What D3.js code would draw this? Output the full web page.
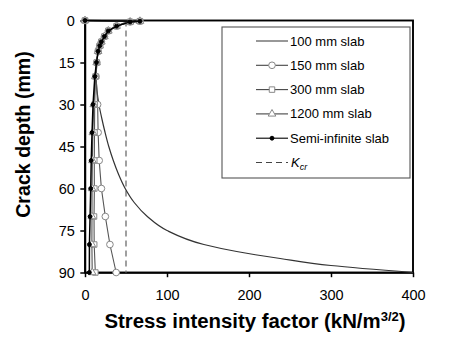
<!DOCTYPE html>
<html>
<head>
<meta charset="utf-8">
<script src="https://cdn.jsdelivr.net/npm/d3@7"></script>
<style>
  body { margin: 0; background: #fff; }
  svg { font-family: "Liberation Sans", Arial, sans-serif; display: block; }
  .axis path, .axis line { stroke: #000; stroke-width: 1.5; }
  .axis text { font-size: 14.5px; fill: #000; }
</style>
</head>
<body>
<div id="root"></div>
<script>
// data (crack depth in mm, K in kN/m^3/2)
const depths = [0, 0.25, 0.5, 2, 3.7, 5.7, 7.6, 9, 11, 15, 20, 30, 40, 50, 60, 70, 80, 90];
const k150 = [0, 67, 55, 38.6, 28.5, 23.7, 20, 18, 16, 14.5, 13.5, 15.4, 16, 17.3, 20, 24.8, 30.4, 38];
const k300 = [0, 67, 55, 38.6, 28.5, 23.7, 20, 18, 16, 14.3, 12.8, 11.8, 11.6, 11.3, 11.4, 11, 11.2, 12.6];
const k1200 = [0, 67, 55, 38.6, 28.5, 23.7, 20, 18, 16, 14.2, 12.5, 10.6, 9.6, 9, 8.6, 8.5, 8.4, 8.8];
const kSemi = [0, 67, 55, 38.6, 28.5, 23.7, 20, 18, 16, 14, 12, 9.8, 8.6, 7.6, 7, 6.2, 5.4, 5.3];

const depths100 = [0, 0.25, 0.5, 2, 3.7, 5.7, 7.6, 9, 11, 15, 20, 25, 30, 35, 40, 45, 50, 55, 60, 65, 70, 75, 80, 82.5, 85, 87.5, 90];
const k100 = [0, 67, 55, 38.6, 28.5, 23.7, 20, 18, 16, 14.5, 13.6, 14.6, 17, 20.5, 24.5, 29, 34.5, 41, 49, 60, 76, 100, 145, 185, 238, 300, 400];

const kcr = 50;
const xTicks = [0, 100, 200, 300, 400];
const yTicks = [0, 15, 30, 45, 60, 75, 90];
const legendNames = ["100 mm slab", "150 mm slab", "300 mm slab", "1200 mm slab", "Semi-infinite slab"];

const width = 460, height = 352;
const mLeft = 85, mTop = 20.5, plotW = 328, plotH = 252;

const svg = d3.select("#root").append("svg")
  .attr("width", width)
  .attr("height", height);

const x = d3.scaleLinear().domain([0, 400]).range([mLeft, mLeft + plotW]);
const y = d3.scaleLinear().domain([0, 90]).range([mTop, mTop + plotH]);

// axes
svg.append("g")
  .attr("class", "axis")
  .attr("transform", `translate(${mLeft},0)`)
  .call(d3.axisLeft(y).tickValues(yTicks).tickSize(4.7).tickSizeOuter(0).tickPadding(5.5));

svg.append("g")
  .attr("class", "axis")
  .attr("transform", `translate(0,${mTop + plotH})`)
  .call(d3.axisBottom(x).tickValues(xTicks).tickSize(4.7).tickSizeOuter(0).tickPadding(13));

// frame
svg.append("rect")
  .attr("x", mLeft).attr("y", mTop)
  .attr("width", plotW).attr("height", plotH)
  .attr("fill", "none").attr("stroke", "#000").attr("stroke-width", 1.9);

// K_cr
svg.append("line")
  .attr("x1", x(kcr)).attr("x2", x(kcr))
  .attr("y1", y(0)).attr("y2", y(90))
  .attr("stroke", "#777").attr("stroke-width", 1.4)
  .attr("stroke-dasharray", "6,4");

const lineFor = (ks, ds) => d3.line()
  .x((d, i) => x(ks[i]))
  .y(d => y(d))(ds);

// 100 mm slab (smooth line, no markers)
svg.append("path")
  .attr("d", d3.line().curve(d3.curveMonotoneY)
    .x((d, i) => x(k100[i])).y(d => y(d))(depths100))
  .attr("fill", "none").attr("stroke", "#333").attr("stroke-width", 1.2);

const series = [
  {name: "150 mm slab", k: k150, sym: d3.symbolCircle, size: 35, line: "#555"},
  {name: "300 mm slab", k: k300, sym: d3.symbolSquare, size: 30, line: "#555"},
  {name: "1200 mm slab", k: k1200, sym: d3.symbolTriangle, size: 25, line: "#555"},
  {name: "Semi-infinite slab", k: kSemi, sym: d3.symbolCircle, size: 12, line: "#000"}
];

series.forEach(s => {
  const g = svg.append("g");
  g.append("path")
    .attr("d", lineFor(s.k, depths))
    .attr("fill", "none").attr("stroke", s.line)
    .attr("stroke-width", s.line === "#000" ? 1.5 : 1.1);
  g.selectAll("path.m")
    .data(depths)
    .join("path")
    .attr("class", "m")
    .attr("transform", (d, i) => `translate(${x(s.k[i])},${y(d)})`)
    .attr("d", d3.symbol().type(s.sym).size(s.size))
    .attr("fill", s.line === "#000" ? "#000" : "#fff")
    .attr("stroke", s.line === "#000" ? "#000" : "#888")
    .attr("stroke-width", 1);
});

// axis titles
svg.append("text")
  .attr("transform", `translate(30,${mTop + plotH / 2 - 12}) rotate(-90)`)
  .attr("text-anchor", "middle")
  .style("font-size", "19.6px").style("font-weight", "bold")
  .text("Crack depth (mm)");

const xt = svg.append("text")
  .attr("transform", "translate(255,328) scale(1.04,1)")
  .attr("text-anchor", "middle")
  .style("font-size", "19.6px").style("font-weight", "bold");
xt.append("tspan").text("Stress intensity factor (kN/m");
xt.append("tspan").attr("dy", -7.5).style("font-size", "12.6px").text("3/2");
xt.append("tspan").attr("dy", 7.5).text(")");

// legend
const lg = svg.append("g");
lg.append("rect")
  .attr("x", 222).attr("y", 27).attr("width", 188).attr("height", 151)
  .attr("fill", "#fff").attr("stroke", "#555").attr("stroke-width", 1.1);

const rowY = i => 41 + i * 24.3;
const legendItems = [
  {name: legendNames[0], sym: null, line: "#333"}
].concat(series.map(s => ({name: s.name, sym: s.sym, size: s.size, line: s.line})));

legendItems.forEach((it, i) => {
  const yy = rowY(i);
  lg.append("line")
    .attr("x1", 256).attr("x2", 288).attr("y1", yy).attr("y2", yy)
    .attr("stroke", it.line === "#000" ? "#000" : "#444").attr("stroke-width", 1.1);
  if (it.sym) {
    lg.append("path")
      .attr("transform", `translate(272,${yy})`)
      .attr("d", d3.symbol().type(it.sym).size(it.size))
      .attr("fill", it.line === "#000" ? "#000" : "#fff")
      .attr("stroke", it.line === "#000" ? "#000" : "#888");
  }
  lg.append("text")
    .attr("x", 290).attr("y", yy).attr("dy", "0.35em")
    .style("font-size", "13px")
    .text(it.name);
});

// K_cr legend entry
const ky = rowY(5);
lg.append("line")
  .attr("x1", 256).attr("x2", 288).attr("y1", ky).attr("y2", ky)
  .attr("stroke", "#444").attr("stroke-width", 1.1)
  .attr("stroke-dasharray", "6,4");
const kt = lg.append("text")
  .attr("x", 291).attr("y", ky).attr("dy", "0.35em")
  .style("font-size", "13px").style("font-style", "italic");
kt.append("tspan").text("K");
kt.append("tspan").attr("dy", 3).style("font-size", "9px").text("cr");
</script>
</body>
</html>
